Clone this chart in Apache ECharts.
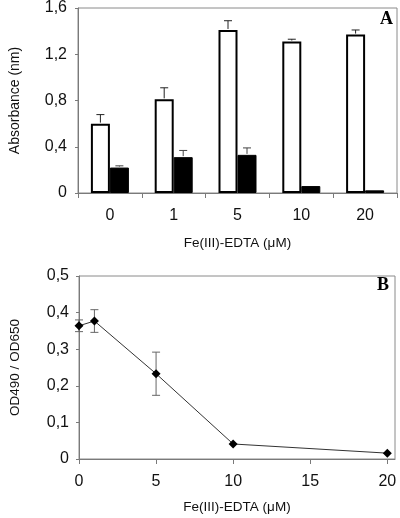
<!DOCTYPE html>
<html>
<head>
<meta charset="utf-8">
<script src="https://cdn.jsdelivr.net/npm/echarts@6/dist/echarts.min.js"></script>
<style>
html,body{margin:0;padding:0;background:#fff;}
#c{width:400px;height:518px;}
</style>
</head>
<body>
<div id="c"></div>
<script>
// ---- Panel A data ----
var categoriesA = ['0', '1', '5', '10', '20'];
var whiteA = [0.60, 0.81, 1.41, 1.31, 1.37];
var whiteErrA = [0.078, 0.10, 0.08, 0.02, 0.04];
var blackA = [0.22, 0.31, 0.33, 0.06, 0.023];
var blackErrA = [0.015, 0.058, 0.06, 0, 0];
var yTicksA = ['0', '0,4', '0,8', '1,2', '1,6'];

// ---- Panel B data ----
var xB = [0, 1, 5, 10, 20];
var yB = [0.364, 0.377, 0.233, 0.041, 0.016];
var errB = [0.016, 0.031, 0.059, 0, 0];
var yTicksB = ['0', '0,1', '0,2', '0,3', '0,4', '0,5'];
var xTicksB = ['0', '5', '10', '15', '20'];

var axisGray = '#7a7a7a';
var txt = '#111';
var font = 'Liberation Sans, Arial, sans-serif';

function errA(offset, capColor) {
  return function (params, api) {
    var err = api.value(2);
    if (!err) return null;
    var idx = api.value(0), val = api.value(1);
    var p0 = api.coord([idx, val]);
    var p1 = api.coord([idx, val + err]);
    var x = p0[0] + offset;
    var st = { stroke: capColor, lineWidth: 1 };
    return {
      type: 'group',
      children: [
        { type: 'line', shape: { x1: x, y1: p0[1] - 1, x2: x, y2: p1[1] }, style: st },
        { type: 'line', shape: { x1: x - 4, y1: p1[1], x2: x + 4, y2: p1[1] }, style: st }
      ]
    };
  };
}

function errBRender(params, api) {
  var err = api.value(2);
  if (!err) return null;
  var xv = api.value(0), yv = api.value(1);
  var pt = api.coord([xv, yv + err]);
  var pb = api.coord([xv, yv - err]);
  var st = { stroke: '#666', lineWidth: 1 };
  return {
    type: 'group',
    children: [
      { type: 'line', shape: { x1: pt[0], y1: pt[1], x2: pb[0], y2: pb[1] }, style: st },
      { type: 'line', shape: { x1: pt[0] - 4, y1: pt[1], x2: pt[0] + 4, y2: pt[1] }, style: st },
      { type: 'line', shape: { x1: pb[0] - 4, y1: pb[1], x2: pb[0] + 4, y2: pb[1] }, style: st }
    ]
  };
}

var chart = echarts.init(document.getElementById('c'), null, { renderer: 'canvas' });

var option = {
  animation: false,
  backgroundColor: '#fff',
  textStyle: { fontFamily: font, color: txt },
  grid: [
    { left: 72, top: 8, width: 325, height: 185, show: true, borderColor: '#8a8a8a', borderWidth: 1, backgroundColor: 'transparent' },
    { left: 73, top: 276, width: 322, height: 183, show: true, borderColor: '#8a8a8a', borderWidth: 1, backgroundColor: 'transparent' }
  ],
  xAxis: [
    {
      gridIndex: 0, type: 'category', data: categoriesA,
      axisLine: { lineStyle: { color: axisGray, width: 1 } },
      axisTick: { show: true, length: 5, lineStyle: { color: axisGray } },
      axisLabel: { color: txt, fontSize: 16, margin: 15, fontFamily: font },
      name: 'Fe(III)-EDTA (\u03bcM)', nameLocation: 'middle', nameGap: 43,
      nameTextStyle: { color: txt, fontSize: 13.5, fontFamily: font }
    },
    {
      gridIndex: 1, type: 'value', min: 0, max: 20.5, interval: 5,
      axisLine: { lineStyle: { color: axisGray, width: 1 } },
      axisTick: { show: true, length: 5, lineStyle: { color: axisGray } },
      splitLine: { show: false },
      axisLabel: {
        color: txt, fontSize: 16, margin: 15, fontFamily: font, showMaxLabel: false,
        formatter: function (v) { var i = xTicksB.indexOf(String(v)); return i >= 0 ? xTicksB[i] : ''; }
      },
      name: 'Fe(III)-EDTA (\u03bcM)', nameLocation: 'middle', nameGap: 41,
      nameTextStyle: { color: txt, fontSize: 13.5, fontFamily: font }
    }
  ],
  yAxis: [
    {
      gridIndex: 0, type: 'value', min: 0, max: 1.6, interval: 0.4,
      axisLine: { show: true, lineStyle: { color: axisGray, width: 1 } },
      axisTick: { show: true, length: 3, lineStyle: { color: axisGray } },
      splitLine: { show: false },
      axisLabel: {
        color: txt, fontSize: 16, margin: 11, fontFamily: font,
        formatter: function (v) { return yTicksA[Math.round(v / 0.4)]; }
      },
      name: 'Absorbance (nm)', nameLocation: 'middle', nameGap: 56,
      nameTextStyle: { color: txt, fontSize: 14, fontFamily: font }
    },
    {
      gridIndex: 1, type: 'value', min: 0, max: 0.5, interval: 0.1,
      axisLine: { show: true, lineStyle: { color: axisGray, width: 1 } },
      axisTick: { show: true, length: 3, lineStyle: { color: axisGray } },
      splitLine: { show: false },
      axisLabel: {
        color: txt, fontSize: 16, margin: 10, fontFamily: font,
        formatter: function (v) { return yTicksB[Math.round(v / 0.1)]; }
      },
      name: 'OD490 / OD650', nameLocation: 'middle', nameGap: 57,
      nameTextStyle: { color: txt, fontSize: 13.5, fontFamily: font }
    }
  ],
  series: [
    {
      type: 'bar', xAxisIndex: 0, yAxisIndex: 0, data: whiteA,
      barWidth: 19, barGap: '0%', z: 3,
      itemStyle: { color: '#fff', borderColor: '#000', borderWidth: 2 }
    },
    {
      type: 'bar', xAxisIndex: 0, yAxisIndex: 0, data: blackA,
      barWidth: 19, barGap: '0%', z: 3,
      itemStyle: { color: '#000', borderColor: '#000', borderWidth: 1 }
    },
    {
      type: 'custom', xAxisIndex: 0, yAxisIndex: 0, z: 5,
      renderItem: errA(-9.5, '#222'),
      encode: { x: 0, y: 1 },
      data: whiteA.map(function (v, i) { return [i, v, whiteErrA[i]]; })
    },
    {
      type: 'custom', xAxisIndex: 0, yAxisIndex: 0, z: 5,
      renderItem: errA(9.5, '#444'),
      encode: { x: 0, y: 1 },
      data: blackA.map(function (v, i) { return [i, v, blackErrA[i]]; })
    },
    {
      type: 'custom', xAxisIndex: 1, yAxisIndex: 1, z: 3,
      renderItem: errBRender,
      encode: { x: 0, y: 1 },
      data: yB.map(function (v, i) { return [xB[i], v, errB[i]]; })
    },
    {
      type: 'line', xAxisIndex: 1, yAxisIndex: 1, z: 4,
      data: xB.map(function (x, i) { return [x, yB[i]]; }),
      symbol: 'diamond', symbolSize: 9,
      lineStyle: { color: '#333', width: 1 },
      itemStyle: { color: '#000' }
    }
  ],
  graphic: [
    { type: 'text', left: 380, top: 10, style: { text: 'A', fontSize: 18, fontWeight: 'bold', fontFamily: 'Liberation Serif, Times New Roman, serif', fill: '#000' } },
    { type: 'text', left: 377, top: 276, style: { text: 'B', fontSize: 18, fontWeight: 'bold', fontFamily: 'Liberation Serif, Times New Roman, serif', fill: '#000' } }
  ]
};

chart.setOption(option);
</script>
</body>
</html>
